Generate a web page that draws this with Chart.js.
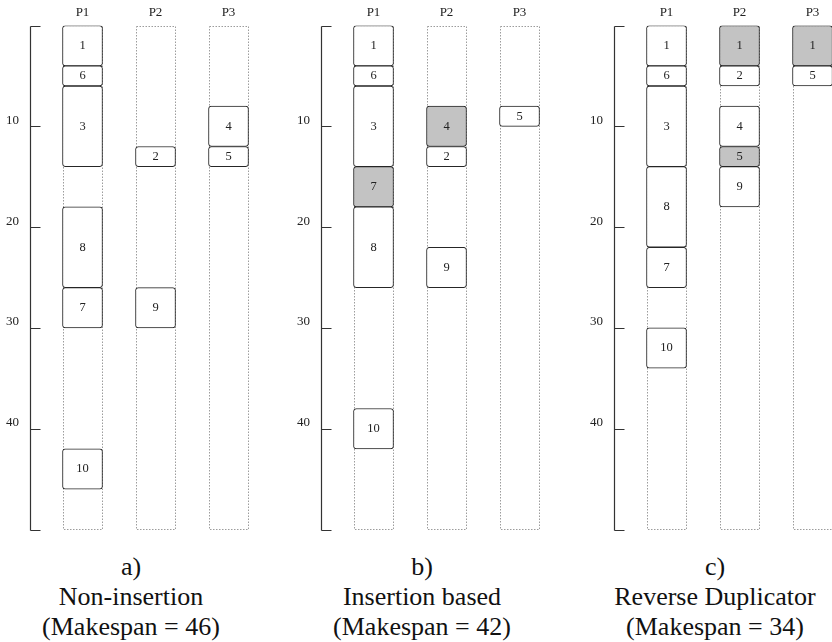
<!DOCTYPE html>
<html>
<head>
<meta charset="utf-8">
<script src="https://cdn.jsdelivr.net/npm/chart.js@4.4.1/dist/chart.umd.min.js"></script>
<style>
html,body{margin:0;padding:0;width:832px;height:642px;overflow:hidden;background:#fff;}
.panel{position:absolute;top:0;width:265px;height:540px;}
.cap{position:absolute;top:552px;width:260px;text-align:center;font-family:'Liberation Serif','DejaVu Serif',serif;font-size:26px;line-height:30px;color:#111;}
</style>
</head>
<body>
<div class="panel" style="left:0px"><canvas id="chartA"></canvas></div>
<div class="panel" style="left:291px"><canvas id="chartB"></canvas></div>
<div class="panel" style="left:584px"><canvas id="chartC"></canvas></div>
<div class="cap" style="left:1px">a)<br>Non-insertion<br>(Makespan = 46)</div>
<div class="cap" style="left:292px">b)<br>Insertion based<br>(Makespan = 42)</div>
<div class="cap" style="left:585px">c)<br>Reverse Duplicator<br>(Makespan = 34)</div>
<script>
// ---- data ----
const processors = ['P1', 'P2', 'P3'];
const yTicks = [0, 10, 20, 30, 40, 50];
const yMin = 0;
const yMax = 50;

// a) Non-insertion
const aLabels = ['1', '6', '3', '8', '7', '10', '2', '9', '4', '5'];
const aProcs  = ['P1', 'P1', 'P1', 'P1', 'P1', 'P1', 'P2', 'P2', 'P3', 'P3'];
const aStart  = [0, 4, 6, 18, 26, 42, 12, 26, 8, 12];
const aEnd    = [4, 6, 14, 26, 30, 46, 14, 30, 12, 14];
const aShaded = [0, 0, 0, 0, 0, 0, 0, 0, 0, 0];

// b) Insertion based
const bLabels = ['1', '6', '3', '7', '8', '10', '4', '2', '9', '5'];
const bProcs  = ['P1', 'P1', 'P1', 'P1', 'P1', 'P1', 'P2', 'P2', 'P2', 'P3'];
const bStart  = [0, 4, 6, 14, 18, 38, 8, 12, 22, 8];
const bEnd    = [4, 6, 14, 18, 26, 42, 12, 14, 26, 10];
const bShaded = [0, 0, 0, 1, 0, 0, 1, 0, 0, 0];

// c) Reverse Duplicator
const cLabels = ['1', '6', '3', '8', '7', '10', '1', '2', '4', '5', '9', '1', '5'];
const cProcs  = ['P1', 'P1', 'P1', 'P1', 'P1', 'P1', 'P2', 'P2', 'P2', 'P2', 'P2', 'P3', 'P3'];
const cStart  = [0, 4, 6, 14, 22, 30, 0, 4, 8, 12, 14, 0, 4];
const cEnd    = [4, 6, 14, 22, 26, 34, 4, 6, 12, 14, 18, 4, 6];
const cShaded = [0, 0, 0, 0, 0, 0, 1, 0, 0, 1, 0, 1, 0];

// ---- styling ----
const serif = "'Liberation Serif', 'DejaVu Serif', serif";

const schedulePlugin = {
  id: 'schedule',
  beforeDatasetsDraw(chart) {
    const { ctx, scales: { x, y } } = chart;
    const top = y.getPixelForValue(yMin);
    const bot = y.getPixelForValue(yMax);
    ctx.save();
    // dotted processor columns
    ctx.strokeStyle = '#9c9c9c';
    ctx.lineWidth = 1;
    ctx.setLineDash([1.5, 1.5]);
    processors.forEach((p, i) => {
      const cx = x.getPixelForValue(i);
      ctx.strokeRect(Math.round(cx - 20) + 0.5, Math.round(top) + 0.5, 39, Math.round(bot - top) - 1);
    });
    // time axis line with inward ticks
    ctx.setLineDash([]);
    ctx.strokeStyle = '#333';
    ctx.lineWidth = 1.2;
    const ax = Math.round(chart.chartArea.left - 16) + 0.5;
    ctx.beginPath();
    ctx.moveTo(ax, Math.round(top) + 0.5);
    ctx.lineTo(ax, Math.round(bot) + 0.5);
    yTicks.forEach(v => {
      const py = Math.round(y.getPixelForValue(v)) + 0.5;
      ctx.moveTo(ax, py);
      ctx.lineTo(ax + 10, py);
    });
    ctx.stroke();
    ctx.restore();
  },
  afterDatasetsDraw(chart) {
    const ctx = chart.ctx;
    ctx.save();
    ctx.fillStyle = '#222';
    ctx.font = '12.5px ' + serif;
    ctx.textAlign = 'center';
    ctx.textBaseline = 'middle';
    chart.data.datasets.forEach((ds, di) => {
      const meta = chart.getDatasetMeta(di);
      meta.data.forEach((bar, i) => {
        const c = bar.getCenterPoint();
        ctx.fillText(ds.taskLabels[i], c.x, c.y);
      });
    });
    ctx.restore();
  }
};

function makeChart(id, labels, procs, starts, ends, shaded) {
  return new Chart(document.getElementById(id), {
    type: 'bar',
    data: {
      labels: processors,
      datasets: [{
        taskLabels: labels,
        data: starts.map((s, i) => ({ x: procs[i], y: [s, ends[i]] })),
        backgroundColor: c => shaded[c.dataIndex] ? '#c3c3c3' : '#ffffff',
        borderColor: '#262626',
        borderWidth: 1,
        borderRadius: 3,
        borderSkipped: false,
        barThickness: 40
      }]
    },
    options: {
      responsive: true,
      maintainAspectRatio: false,
      animation: false,
      layout: { padding: { left: 0, right: 0, top: 0, bottom: 10.5 } },
      plugins: { legend: { display: false }, tooltip: { enabled: false } },
      scales: {
        x: {
          position: 'top',
          grid: { display: false, drawTicks: false },
          border: { display: false },
          ticks: { font: { family: serif, size: 13 }, color: '#222', padding: 5 },
          afterFit: s => { s.height = 25.5; s.paddingLeft = 0; s.paddingRight = 0; }
        },
        y: {
          min: yMin,
          max: yMax,
          reverse: true,
          grid: { display: false, drawTicks: false },
          border: { display: false },
          ticks: {
            stepSize: 10,
            padding: 27,
            labelOffset: -6,
            font: { family: serif, size: 13 },
            color: '#222',
            callback: v => (v === yMin || v === yMax) ? '' : String(v)
          },
          afterFit: s => { s.width = 46; s.paddingTop = 0; s.paddingBottom = 0; }
        }
      }
    },
    plugins: [schedulePlugin]
  });
}

makeChart('chartA', aLabels, aProcs, aStart, aEnd, aShaded);
makeChart('chartB', bLabels, bProcs, bStart, bEnd, bShaded);
makeChart('chartC', cLabels, cProcs, cStart, cEnd, cShaded);
</script>
</body>
</html>
